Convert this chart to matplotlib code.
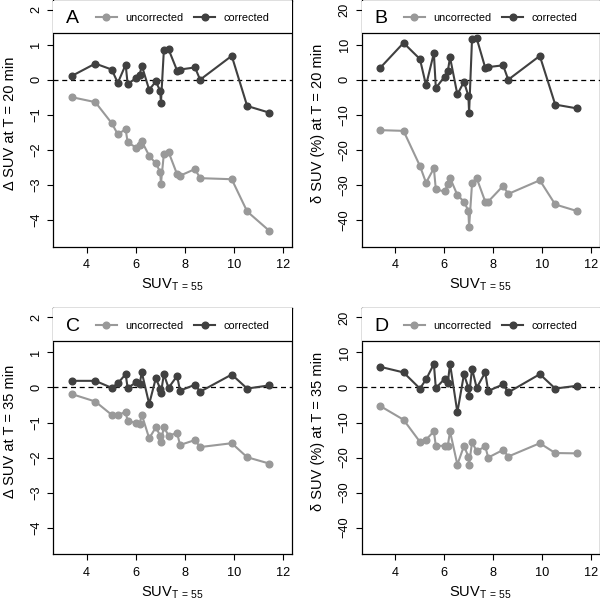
import matplotlib
matplotlib.use("Agg")
import matplotlib.pyplot as plt
from matplotlib.lines import Line2D

plt.rcParams['font.family'] = ['Liberation Sans', 'DejaVu Sans']
plt.rcParams['mathtext.default'] = 'regular'

# Shared x values (SUV at T = 55)
suv55 = [3.40, 4.35, 5.02, 5.27, 5.59, 5.67, 6.03, 6.16, 6.25, 6.55, 6.82,
         7.00, 7.03, 7.15, 7.34, 7.69, 7.81, 8.42, 8.63, 9.92, 10.55, 11.45]

# Panel A: delta SUV at T = 20 min
a_corr = [0.11, 0.46, 0.29, -0.09, 0.43, -0.12, 0.05, 0.14, 0.40, -0.29, -0.05,
          -0.32, -0.66, 0.85, 0.87, 0.26, 0.29, 0.35, 0.0, 0.68, -0.75, -0.94]
a_unc = [-0.50, -0.64, -1.24, -1.56, -1.41, -1.79, -1.94, -1.86, -1.76, -2.17, -2.39,
         -2.63, -2.97, -2.11, -2.06, -2.70, -2.74, -2.55, -2.81, -2.84, -3.76, -4.31]

# Panel B: delta SUV (%) at T = 20 min
b_corr = [3.4, 10.5, 5.9, -1.6, 7.6, -2.4, 0.9, 2.4, 6.4, -4.2, -0.6,
          -4.6, -9.4, 11.7, 11.8, 3.4, 3.6, 4.1, 0.0, 6.8, -7.1, -8.2]
b_unc = [-14.4, -14.6, -24.6, -29.4, -25.3, -31.3, -31.9, -29.9, -28.0, -32.9, -34.8,
         -37.4, -42.1, -29.6, -28.1, -34.8, -34.8, -30.3, -32.6, -28.7, -35.6, -37.5]

# Panel C: delta SUV at T = 35 min
c_corr = [0.19, 0.19, -0.01, 0.12, 0.38, -0.01, 0.15, 0.10, 0.43, -0.47, 0.26,
          -0.03, -0.16, 0.38, -0.01, 0.33, -0.09, 0.08, -0.12, 0.37, -0.03, 0.06]
c_unc = [-0.19, -0.40, -0.78, -0.78, -0.70, -0.96, -1.01, -1.03, -0.78, -1.45, -1.14,
         -1.37, -1.55, -1.13, -1.37, -1.30, -1.64, -1.50, -1.70, -1.59, -1.99, -2.17]

# Panel D: delta SUV (%) at T = 35 min
d_corr = [5.9, 4.3, -0.3, 2.3, 6.7, -0.2, 2.5, 1.3, 6.8, -7.1, 3.8,
          -0.1, -2.3, 5.4, -0.1, 4.3, -1.0, 0.9, -1.4, 3.8, -0.3, 0.5]
d_unc = [-5.3, -9.2, -15.5, -14.9, -12.5, -16.7, -16.6, -16.6, -12.5, -22.0, -16.7,
         -19.7, -22.0, -15.6, -18.2, -16.8, -20.0, -17.8, -19.7, -15.9, -18.7, -18.8]

letters = ['A', 'B', 'C', 'D']
ylabels = ['\u0394 SUV at T = 20 min', '\u03b4 SUV (%) at T = 20 min',
           '\u0394 SUV at T = 35 min', '\u03b4 SUV (%) at T = 35 min']
xlabel = r'SUV$_{T\,=\,55}$'
xticks = [4, 6, 8, 10, 12]
yticks_abs = [-4, -3, -2, -1, 0, 1, 2]
yticks_pct = [-40, -30, -20, -10, 0, 10, 20]
series_names = ['uncorrected', 'corrected']

C_UNC = '#999999'
C_COR = '#404040'

W, H = 600, 605
fig = plt.figure(figsize=(W / 100, H / 100), dpi=100)

panels = [
    (a_unc, a_corr, (-4.5, 2), yticks_abs, 1.33, (53.4, 0.5, 291.5, 246.5)),
    (b_unc, b_corr, (-45, 20), yticks_pct, 13.3, (361.7, 0.5, 599.5, 246.5)),
    (c_unc, c_corr, (-4.5, 2), yticks_abs, 1.33, (53.4, 308.3, 291.5, 554.3)),
    (d_unc, d_corr, (-45, 20), yticks_pct, 13.3, (361.7, 308.3, 599.5, 554.3)),
]

for i, (unc, cor, ylim, yt, legy, (l, t, r, b)) in enumerate(panels):
    ax = fig.add_axes([l / W, 1 - b / H, (r - l) / W, (b - t) / H])
    xr = 12 - 3
    ax.set_xlim(3 - 0.04 * xr, 12 + 0.04 * xr)
    yr = ylim[1] - ylim[0]
    ax.set_ylim(ylim[0] - 0.04 * yr, ylim[1] + 0.04 * yr)

    ax.axhline(0, color='black', lw=0.9, ls=(0, (4, 3)), zorder=1)
    ax.plot(suv55, unc, '-o', color=C_UNC, lw=1.5, ms=4.8, zorder=2)
    ax.plot(suv55, cor, '-o', color=C_COR, lw=1.5, ms=4.8, zorder=3)

    # legend strip at top
    ax.axhspan(legy, ylim[1] + 0.04 * yr, color='white', zorder=4)
    ax.axhline(legy, color='black', lw=0.9, zorder=5)
    handles = [Line2D([], [], color=C_UNC, marker='o', lw=1.5, ms=4.8),
               Line2D([], [], color=C_COR, marker='o', lw=1.5, ms=4.8)]
    leg = ax.legend(handles, series_names, loc='center', ncol=2, frameon=False,
                    bbox_to_anchor=(0.543, 0.928), numpoints=1, handlelength=1.9,
                    handletextpad=0.8, columnspacing=1.0, fontsize=7.8,
                    borderpad=0, borderaxespad=0)
    leg.set_zorder(6)
    ax.text(0.082, 0.928, letters[i], transform=ax.transAxes, fontsize=14,
            ha='center', va='center', zorder=6)

    ax.set_xticks(xticks)
    ax.set_yticks(yt)
    ax.tick_params(axis='both', direction='out', length=4, width=0.8,
                   labelsize=9.2, color='black')
    ax.tick_params(axis='x', pad=5)
    ax.tick_params(axis='y', pad=4)
    ax.set_yticklabels([('\u2212' + str(abs(v))) if v < 0 else str(v) for v in yt],
                       rotation=90, va='center')
    for s in ax.spines.values():
        s.set_linewidth(0.9)
    ax.set_ylabel(ylabels[i], fontsize=10.5, va='center')
    ax.yaxis.set_label_coords(-0.182, 0.5)
    ax.set_xlabel(xlabel, fontsize=10.5, va='center')
    ax.xaxis.set_label_coords(0.5, -0.157)

fig.savefig('out.png', dpi=100)
